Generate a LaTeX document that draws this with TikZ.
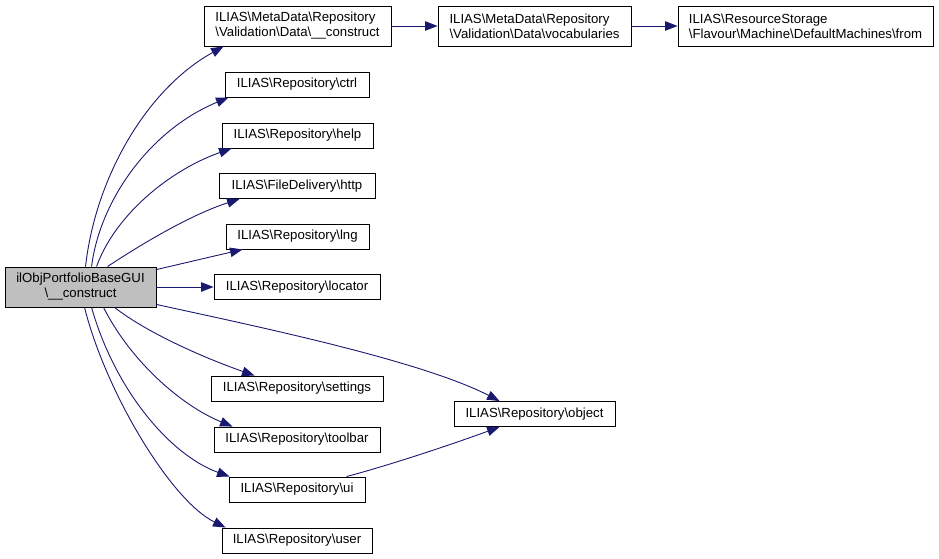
\documentclass[tikz,border=0pt]{standalone}
\usepackage{fontspec}
\setmainfont{Liberation Sans}
\usetikzlibrary{arrows.meta,calc}
\definecolor{edgeblue}{HTML}{191970}
\definecolor{mainfill}{HTML}{BFBFBF}
\begin{document}
\begin{tikzpicture}[x=1pt,y=-1pt,
  box/.style={draw=black,line width=0.9pt,fill=white,inner sep=0pt,align=left,
    font=\fontsize{13.2}{15}\selectfont,minimum height=25pt},
  tall/.style={minimum height=40pt},
  edge/.style={draw=edgeblue,line width=0.9pt,-{Triangle[length=12.5pt,width=9.5pt]}}]
\path[use as bounding box] (0,0) rectangle (939,559);

\node[box,tall,fill=mainfill,align=center,minimum width=151pt] (main) at (80.5,287) {ilObjPortfolioBaseGUI\\\textbackslash\_\_construct};
\node[box,tall,minimum width=187pt] (cons) at (297.5,26) {ILIAS\textbackslash MetaData\textbackslash Repository\\\textbackslash Validation\textbackslash Data\textbackslash\_\_construct};
\node[box,tall,minimum width=193pt] (vocab) at (534.5,26) {ILIAS\textbackslash MetaData\textbackslash Repository\\\textbackslash Validation\textbackslash Data\textbackslash vocabularies};
\node[box,tall,minimum width=255pt] (from) at (805.5,26) {ILIAS\textbackslash ResourceStorage\\\textbackslash Flavour\textbackslash Machine\textbackslash DefaultMachines\textbackslash from};
\node[box,minimum width=144pt] (ctrl) at (297,84.5) {ILIAS\textbackslash Repository\textbackslash ctrl};
\node[box,minimum width=151pt] (help) at (297.5,135.5) {ILIAS\textbackslash Repository\textbackslash help};
\node[box,minimum width=156pt] (http) at (297,186) {ILIAS\textbackslash FileDelivery\textbackslash http};
\node[box,minimum width=143pt] (lng) at (297.5,236.5) {ILIAS\textbackslash Repository\textbackslash lng};
\node[box,minimum width=166pt] (loc) at (297,287) {ILIAS\textbackslash Repository\textbackslash locator};
\node[box,minimum width=172pt] (set) at (297,388.5) {ILIAS\textbackslash Repository\textbackslash settings};
\node[box,minimum width=166pt] (tool) at (297,439.5) {ILIAS\textbackslash Repository\textbackslash toolbar};
\node[box,minimum width=136pt] (ui) at (297,489.5) {ILIAS\textbackslash Repository\textbackslash ui};
\node[box,minimum width=150pt] (user) at (297,540.5) {ILIAS\textbackslash Repository\textbackslash user};
\node[box,minimum width=161pt] (obj) at (534.5,414) {ILIAS\textbackslash Repository\textbackslash object};

\draw[edge] ($(main.north west)+(81,0)$) .. controls (95,180) and (145,90) .. ($(cons.south west)+(20,0)$);
\draw[edge] ($(main.north west)+(87,0)$) .. controls (100,200) and (150,130) .. ($(ctrl.south west)+(4,0)$);
\draw[edge] ($(main.north west)+(92,0)$) .. controls (115,215) and (170,170) .. ($(help.south west)+(10,0)$);
\draw[edge] ($(main.north west)+(103,0)$) .. controls (140,245) and (190,215) .. ($(http.south west)+(21,0)$);
\draw[edge] ($(main.north east)+(0,3)$) -- ($(lng.south west)+(17,0)$);
\draw[edge] (main.east) -- (loc.west);
\draw[edge] ($(main.south east)+(0,-3)$) .. controls (250,325) and (420,360) .. ($(obj.north west)+(46,0)$);
\draw[edge] ($(main.south west)+(110,0)$) .. controls (150,335) and (210,360) .. ($(set.north west)+(44,0)$);
\draw[edge] ($(main.south west)+(99,0)$) .. controls (130,360) and (180,405) .. ($(tool.north west)+(19,0)$);
\draw[edge] ($(main.south west)+(87,0)$) .. controls (115,390) and (170,455) .. ($(ui.north west)+(1,0)$);
\draw[edge] ($(main.south west)+(80,0)$) .. controls (105,390) and (170,500) .. ($(user.north west)+(4,0)$);
\draw[edge] ($(ui.north west)+(118,0)$) .. controls (390,465) and (450,445) .. ($(obj.south west)+(46,0)$);
\draw[edge] (cons.east) -- (vocab.west);
\draw[edge] (vocab.east) -- (from.west);
\end{tikzpicture}
\end{document}
